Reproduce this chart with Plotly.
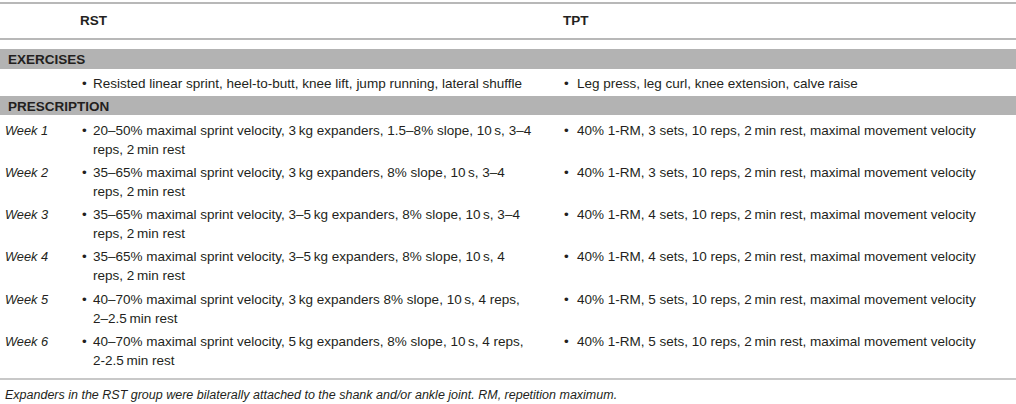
import plotly.graph_objects as go

TS = "\u2009"  # thin space

col_headers = ["RST", "TPT"]
section_titles = ["EXERCISES", "PRESCRIPTION"]
exercises = [
    "Resisted linear sprint, heel-to-butt, knee lift, jump running, lateral shuffle",
    "Leg press, leg curl, knee extension, calve raise",
]
weeks = ["Week 1", "Week 2", "Week 3", "Week 4", "Week 5", "Week 6"]
rst_rx = [
    ["20–50% maximal sprint velocity, 3" + TS + "kg expanders, 1.5–8% slope, 10" + TS + "s, 3–4", "reps, 2" + TS + "min rest"],
    ["35–65% maximal sprint velocity, 3" + TS + "kg expanders, 8% slope, 10" + TS + "s, 3–4", "reps, 2" + TS + "min rest"],
    ["35–65% maximal sprint velocity, 3–5" + TS + "kg expanders, 8% slope, 10" + TS + "s, 3–4", "reps, 2" + TS + "min rest"],
    ["35–65% maximal sprint velocity, 3–5" + TS + "kg expanders, 8% slope, 10" + TS + "s, 4", "reps, 2" + TS + "min rest"],
    ["40–70% maximal sprint velocity, 3" + TS + "kg expanders 8% slope, 10" + TS + "s, 4 reps,", "2–2.5" + TS + "min rest"],
    ["40–70% maximal sprint velocity, 5" + TS + "kg expanders, 8% slope, 10" + TS + "s, 4 reps,", "2-2.5" + TS + "min rest"],
]
tpt_sets = [3, 3, 4, 4, 5, 5]
tpt_rx = ["40% 1-RM, " + str(s) + " sets, 10 reps, 2" + TS + "min rest, maximal movement velocity" for s in tpt_sets]
footnote = "Expanders in the RST group were bilaterally attached to the shank and/or ankle joint. RM, repetition maximum."

W, H = 1016, 404
FONT = "Liberation Sans, Arial, Helvetica, sans-serif"
FS = 13.5
FS_IT = 12.5
TXT = "#231f20"
BAND = "#b3b3b3"

X_LABEL = 3
X_BULLET = [80, 562]
X_TEXT = [91, 575]
X_HEAD = [78, 561]

fig = go.Figure()
ann = []
shapes = []

def add_text(x, y, t, bold=False, italic=False, size=FS):
    if bold:
        t = "<b>" + t + "</b>"
    if italic:
        t = "<i>" + t + "</i>"
    ann.append(dict(x=x, y=y, xref="x", yref="y", text=t, showarrow=False,
                    xanchor="left", yanchor="middle",
                    font=dict(family=FONT, size=size, color=TXT)))

def hline(y, color, width):
    shapes.append(dict(type="line", xref="x", yref="y", x0=0, x1=W, y0=y, y1=y,
                       line=dict(color=color, width=width)))

def band(y0, y1):
    shapes.append(dict(type="rect", xref="x", yref="y", x0=0, x1=W, y0=y0, y1=y1,
                       fillcolor=BAND, line=dict(width=0), layer="below"))

# rules
hline(3, "#a0a0a0", 1.5)
hline(39, "#a0a0a0", 1.5)
hline(379, "#c8c8c8", 2)

# header
for j, h in enumerate(col_headers):
    add_text(X_HEAD[j], 20, h, bold=True)

# exercises section
band(49, 69)
add_text(6, 59.5, section_titles[0], bold=True)
for j, e in enumerate(exercises):
    add_text(X_BULLET[j], 83, "•")
    add_text(X_TEXT[j], 83, e)

# prescription section
band(96, 115)
add_text(6, 106, section_titles[1], bold=True)

Y0, STEP, LINE = 130, 42.3, 19
for i, wk in enumerate(weeks):
    y = Y0 + i * STEP
    add_text(X_LABEL, y, wk, italic=True, size=FS_IT + 0.3)
    add_text(X_BULLET[0], y, "•")
    for k, ln in enumerate(rst_rx[i]):
        add_text(X_TEXT[0], y + k * LINE, ln)
    add_text(X_BULLET[1], y, "•")
    add_text(X_TEXT[1], y, tpt_rx[i])

add_text(3, 395, footnote, italic=True, size=FS_IT)

fig.update_layout(
    width=W, height=H,
    margin=dict(l=0, r=0, t=0, b=0),
    paper_bgcolor="white", plot_bgcolor="white",
    xaxis=dict(range=[0, W], visible=False, fixedrange=True),
    yaxis=dict(range=[H, 0], visible=False, fixedrange=True),
    annotations=ann, shapes=shapes, showlegend=False,
)

fig.write_html(
    "out.html",
    config={"displayModeBar": False},
    post_script="document.body.style.margin='0';document.body.style.overflow='hidden';",
)
